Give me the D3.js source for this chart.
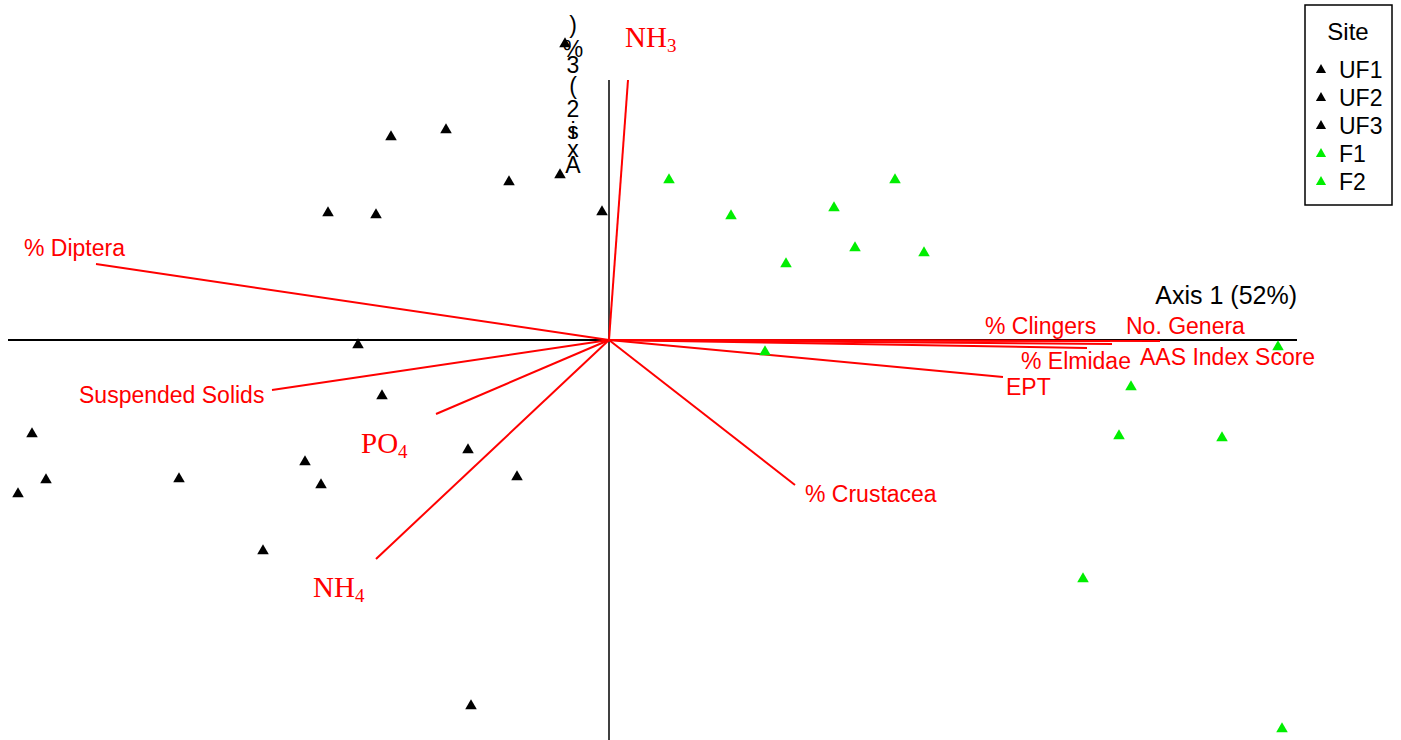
<!DOCTYPE html>
<html>
<head>
<meta charset="utf-8">
<script src="https://cdn.jsdelivr.net/npm/d3@7"></script>
<style>
  body { margin: 0; background: #fff; }
  text { font-family: "Liberation Sans", Arial, sans-serif; }
</style>
</head>
<body>
<div id="chart"></div>
<script>
// ordination biplot, sites + environmental vectors
var svgWidth = 1401;
var svgHeight = 740;

// site scores (axis 1, axis 2)
var siteNames = ["UF1", "UF2", "UF3", "F1", "F2"];
var siteColors = ["#000000", "#000000", "#000000", "#00ee00", "#00ee00"];

var uf1X = [-0.44, -2.18, -1.63, -1.00, -0.49, -0.07, -2.81];
var uf1Y = [2.96, 2.03, 2.10, 1.58, 1.65, 1.28, 1.27];
var uf2X = [-2.33, -2.51, -2.27, -5.77, -5.91, -5.63, -4.30];
var uf2Y = [1.25, -0.05, -0.56, -0.94, -1.54, -1.40, -1.39];
var uf3X = [-3.04, -2.88, -1.41, -0.92, -3.46, -1.38];
var uf3Y = [-1.22, -1.45, -1.10, -1.37, -2.11, -3.66];
var f1X = [0.60, 1.22, 1.77, 2.25, 2.86, 2.46, 3.15];
var f1Y = [1.60, 1.24, 0.76, 1.32, 1.60, 0.92, 0.87];
var f2X = [1.56, 5.22, 5.10, 6.13, 6.69, 4.74, 6.73];
var f2Y = [-0.12, -0.47, -0.96, -0.98, -0.07, -2.39, -3.89];

// environmental / metric vectors
var vecNames = ["NH3", "% Diptera", "Suspended Solids", "PO4", "NH4", "% Crustacea",
  "EPT", "% Elmidae", "% Clingers", "AAS Index Score", "No. Genera"];
var vecX = [0.19, -5.13, -3.37, -1.73, -2.33, 1.86, 3.94, 4.78, 5.01, 5.03, 5.51];
var vecY = [2.60, 0.76, -0.50, -0.74, -2.19, -1.45, -0.37, -0.08, -0.01, -0.04, -0.01];

var axis1Label = "Axis 1 (52%)";

// label placement (pixels from vector tip)
var labelDx = [-3, -72, -193, -75, -63, 10, 3, -66, -125, 28, -34];
var labelDy = [-33, -8, 13, 39, 38, 17, 18, 21, -7, 21, -7];

var svg = d3.select("#chart")
  .append("svg")
  .attr("width", svgWidth)
  .attr("height", svgHeight);

var xScale = d3.scaleLinear().domain([-6.01, 6.88]).range([8, 1297]);
var yScale = d3.scaleLinear().domain([-4, 2.6]).range([740, 80]);

// axes through origin
svg.append("line")
  .attr("x1", xScale(-6.01)).attr("x2", xScale(6.88))
  .attr("y1", yScale(0)).attr("y2", yScale(0))
  .attr("stroke", "black").attr("stroke-width", 2);
svg.append("line")
  .attr("x1", xScale(0)).attr("x2", xScale(0))
  .attr("y1", yScale(2.6)).attr("y2", yScale(-4))
  .attr("stroke", "black").attr("stroke-width", 1.5);

// vectors
vecNames.forEach(function(name, i) {
  svg.append("line")
    .attr("x1", xScale(0)).attr("y1", yScale(0))
    .attr("x2", xScale(vecX[i])).attr("y2", yScale(vecY[i]))
    .attr("stroke", "#ff0000")
    .attr("stroke-width", 2);

  var tx = xScale(vecX[i]) + labelDx[i];
  var ty = yScale(vecY[i]) + labelDy[i];
  var chem = name.match(/^([A-Z]+)(\d)$/);
  if (chem) {
    var t = svg.append("text")
      .attr("x", tx).attr("y", ty)
      .attr("fill", "#ff0000")
      .style("font-family", "'Liberation Serif', 'Times New Roman', serif")
      .style("font-size", "29px")
      .text(chem[1]);
    t.append("tspan")
      .attr("dy", 5)
      .style("font-size", "19px")
      .text(chem[2]);
  } else {
    svg.append("text")
      .attr("x", tx).attr("y", ty)
      .attr("fill", "#ff0000")
      .style("font-size", "23px")
      .text(name);
  }
});

// site points
var tri = d3.symbol().type(d3.symbolTriangle).size(58);
var allX = [uf1X, uf2X, uf3X, f1X, f2X];
var allY = [uf1Y, uf2Y, uf3Y, f1Y, f2Y];
siteNames.forEach(function(site, s) {
  svg.selectAll(".pt" + s)
    .data(d3.range(allX[s].length))
    .enter()
    .append("path")
    .attr("d", tri)
    .attr("fill", siteColors[s])
    .attr("transform", function(j) {
      return "translate(" + xScale(allX[s][j]) + "," + yScale(allY[s][j]) + ")";
    });
});

// axis titles
svg.append("text")
  .attr("x", 1297).attr("y", 304)
  .attr("text-anchor", "end")
  .style("font-size", "25px")
  .text(axis1Label);

// axis 2 title comes out as stacked glyphs, bottom to top (one text element)
var a2chars = ["A", "x", "s", "i", "2", "(", "3", "%", ")"];
var a2y = [173, 157, 139, 139, 117, 94, 73, 57, 33];
var a2 = svg.append("text")
  .attr("text-anchor", "middle")
  .style("font-size", "23px");
a2chars.forEach(function(c, i) {
  a2.append("tspan")
    .attr("x", 573).attr("y", a2y[i])
    .text(c);
});

// legend
var lg = svg.append("g");
lg.append("rect")
  .attr("x", 1305).attr("y", 5)
  .attr("width", 87).attr("height", 200)
  .attr("fill", "white")
  .attr("stroke", "black")
  .attr("stroke-width", 1.5);
lg.append("text")
  .attr("x", 1348).attr("y", 40)
  .attr("text-anchor", "middle")
  .style("font-size", "24px")
  .text("Site");
siteNames.forEach(function(site, s) {
  var yy = 70 + s * 28;
  lg.append("path")
    .attr("d", d3.symbol().type(d3.symbolTriangle).size(45))
    .attr("fill", siteColors[s])
    .attr("transform", "translate(1321," + yy + ")");
  lg.append("text")
    .attr("x", 1339).attr("y", yy + 8)
    .style("font-size", "23px")
    .text(site);
});
</script>
</body>
</html>
